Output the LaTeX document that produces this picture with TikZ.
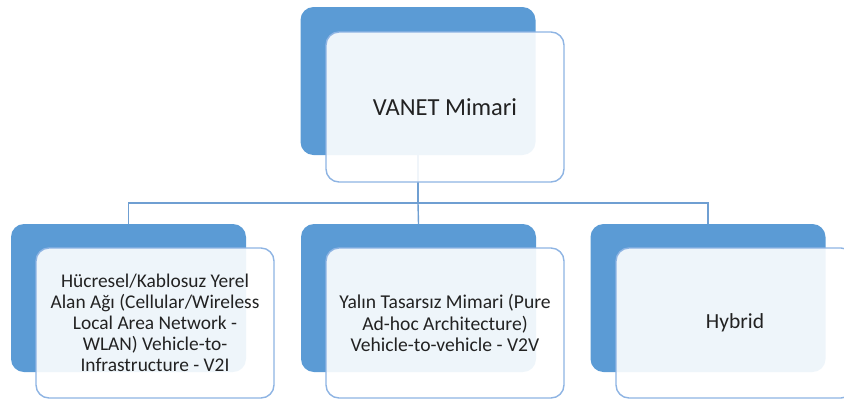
\documentclass[tikz,border=0pt]{standalone}
\usepackage{fontspec}
\setmainfont{Carlito}
\definecolor{darkblue}{HTML}{5B9BD5}
\definecolor{edgeblue}{HTML}{8EB4E3}
\definecolor{linkblue}{HTML}{6F9FD2}
\definecolor{txt}{HTML}{222222}
\begin{document}
\begin{tikzpicture}[x=1pt,y=-1pt,
  back/.style={draw=none,fill=darkblue,rounded corners=13pt,minimum width=235pt,minimum height=148pt,inner sep=0pt},
  front/.style={draw=edgeblue,line width=1.4pt,fill=white,fill opacity=0.9,text opacity=1,text=txt,rounded corners=13pt,minimum width=238pt,minimum height=150pt,inner sep=0pt,align=center},
  link/.style={draw=linkblue,line width=1.4pt}]
\useasboundingbox (0,0) rectangle (844,400);
\clip (0,0) rectangle (844,400);
% back boxes
\node[back] (tb) at (418,81) {};
\node[back] (b1) at (128.5,298) {};
\node[back] (b2) at (418.5,298) {};
\node[back] (b3) at (708,298) {};
% connectors
\coordinate (hub) at (418,203);
\draw[link] (tb.south) -- (hub);
\draw[link] (hub) -| (b1.north);
\draw[link] (hub) -| (b3.north);
\draw[link] (hub) -- (b2.north);
% front boxes
\node[front,font=\fontsize{24.5}{28}\selectfont] (tf) at (445,107) {VANET Mimari};
\node[front,font=\fontsize{19.4}{21}\selectfont] (f1) at (155,323) {Hücresel/Kablosuz Yerel\\Alan Ağı (Cellular/Wireless\\Local Area Network -\\WLAN) Vehicle-to-\\Infrastructure - V2I};
\node[front,font=\fontsize{19.6}{21.7}\selectfont] (f2) at (445,323) {Yalın Tasarsız Mimari (Pure\\Ad-hoc Architecture)\\Vehicle-to-vehicle - V2V};
\node[front,font=\fontsize{21.5}{25}\selectfont] (f3) at (735,323) {Hybrid};
\end{tikzpicture}
\end{document}
